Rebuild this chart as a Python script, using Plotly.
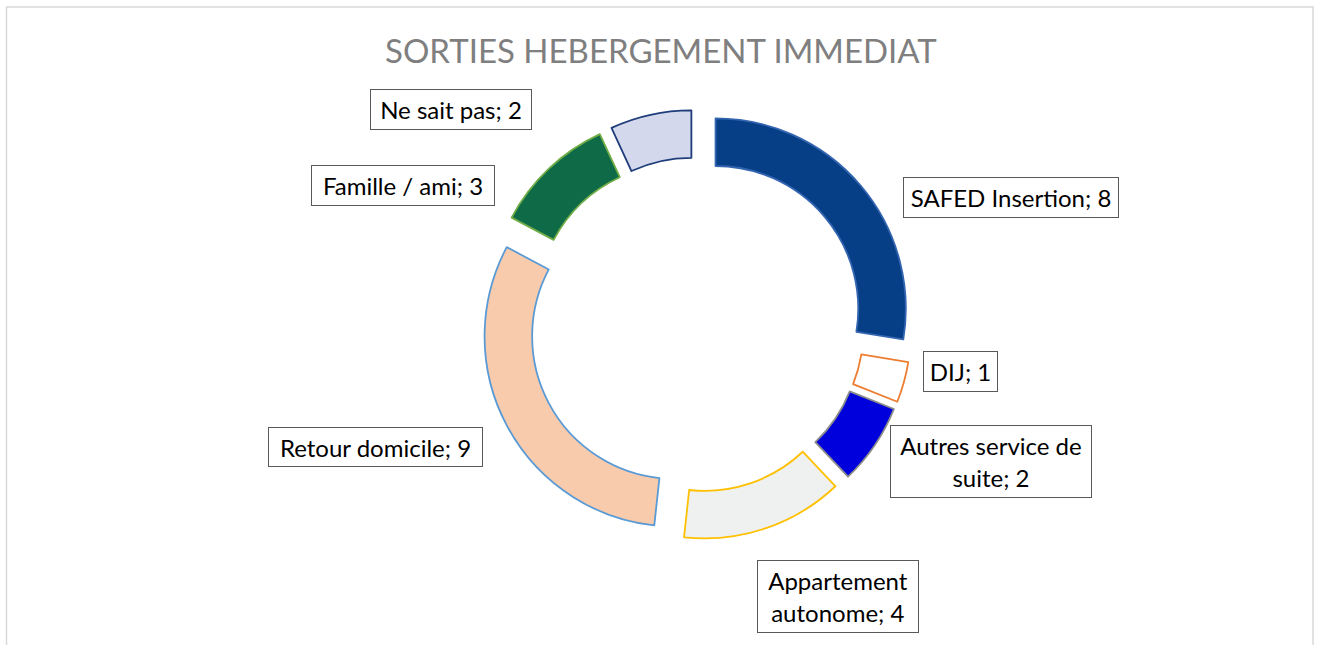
import plotly.graph_objects as go

W, H = 1317, 645

labels = ["SAFED Insertion", "DIJ", "Autres service de suite", "Appartement autonome",
          "Retour domicile", "Famille / ami", "Ne sait pas"]
values = [8, 1, 2, 4, 9, 3, 2]
fill_colors = ["#073f87", "#ffffff", "#0000dc", "#eff1f0", "#f8cbad", "#0f6b47", "#d3d8ec"]
line_colors = ["#3465b0", "#ed7d31", "#8c8c8c", "#ffc000", "#5b9bd5", "#70ad47", "#1f3d7a"]
label_texts = ["SAFED Insertion; 8", "DIJ; 1", "Autres service de<br>suite; 2",
               "Appartement<br>autonome; 4", "Retour domicile; 9", "Famille / ami; 3",
               "Ne sait pas; 2"]
title_text = "SORTIES HEBERGEMENT IMMEDIAT"

# label box geometry in pixels (center x, center y, width, height)
label_boxes = [(1011, 197, 214, 39), (960.5, 371.5, 73, 39), (991, 461.5, 200, 71),
               (838, 596.5, 160, 71), (375.5, 447, 213, 38), (403, 185.5, 182, 39),
               (451, 109.5, 160, 39)]

cx, cy, half = 696.7, 324.7, 215.0

fig = go.Figure(go.Pie(
    labels=labels, values=values, sort=False, direction="clockwise", rotation=0,
    hole=0.75, pull=[0.13] * len(values), textinfo="none",
    marker=dict(colors=fill_colors, line=dict(color=line_colors, width=1.8)),
    domain=dict(x=[(cx - half) / W, (cx + half) / W],
                y=[1 - (cy + half) / H, 1 - (cy - half) / H]),
    showlegend=False,
))

annotations = [dict(text=title_text, x=660.5 / W, y=1 - 50 / H, xref="paper", yref="paper",
                    showarrow=False, xanchor="center", yanchor="middle",
                    font=dict(family="Lato", size=33, color="#7f7f7f"))]
for t, (bx, by, bw, bh) in zip(label_texts, label_boxes):
    annotations.append(dict(
        text=t, x=bx / W, y=1 - by / H, xref="paper", yref="paper", showarrow=False,
        xanchor="center", yanchor="middle", width=bw, height=bh, align="center",
        bgcolor="#ffffff", bordercolor="#595959", borderwidth=1, borderpad=0,
        font=dict(family="Lato", size=24, color="#000000")))

fig.update_layout(
    width=W, height=H, margin=dict(l=0, r=0, t=0, b=0),
    paper_bgcolor="#ffffff", plot_bgcolor="#ffffff",
    annotations=annotations,
    shapes=[dict(type="rect", xref="paper", yref="paper", x0=6.5 / W, x1=1313 / W,
                 y0=-0.05, y1=1 - 7 / H, line=dict(color="#d9d9d9", width=1.5),
                 layer="below")],
)

fig.write_html("out.html", config={"displayModeBar": False},
               post_script="document.body.style.margin='0';document.body.style.overflow='hidden';")
